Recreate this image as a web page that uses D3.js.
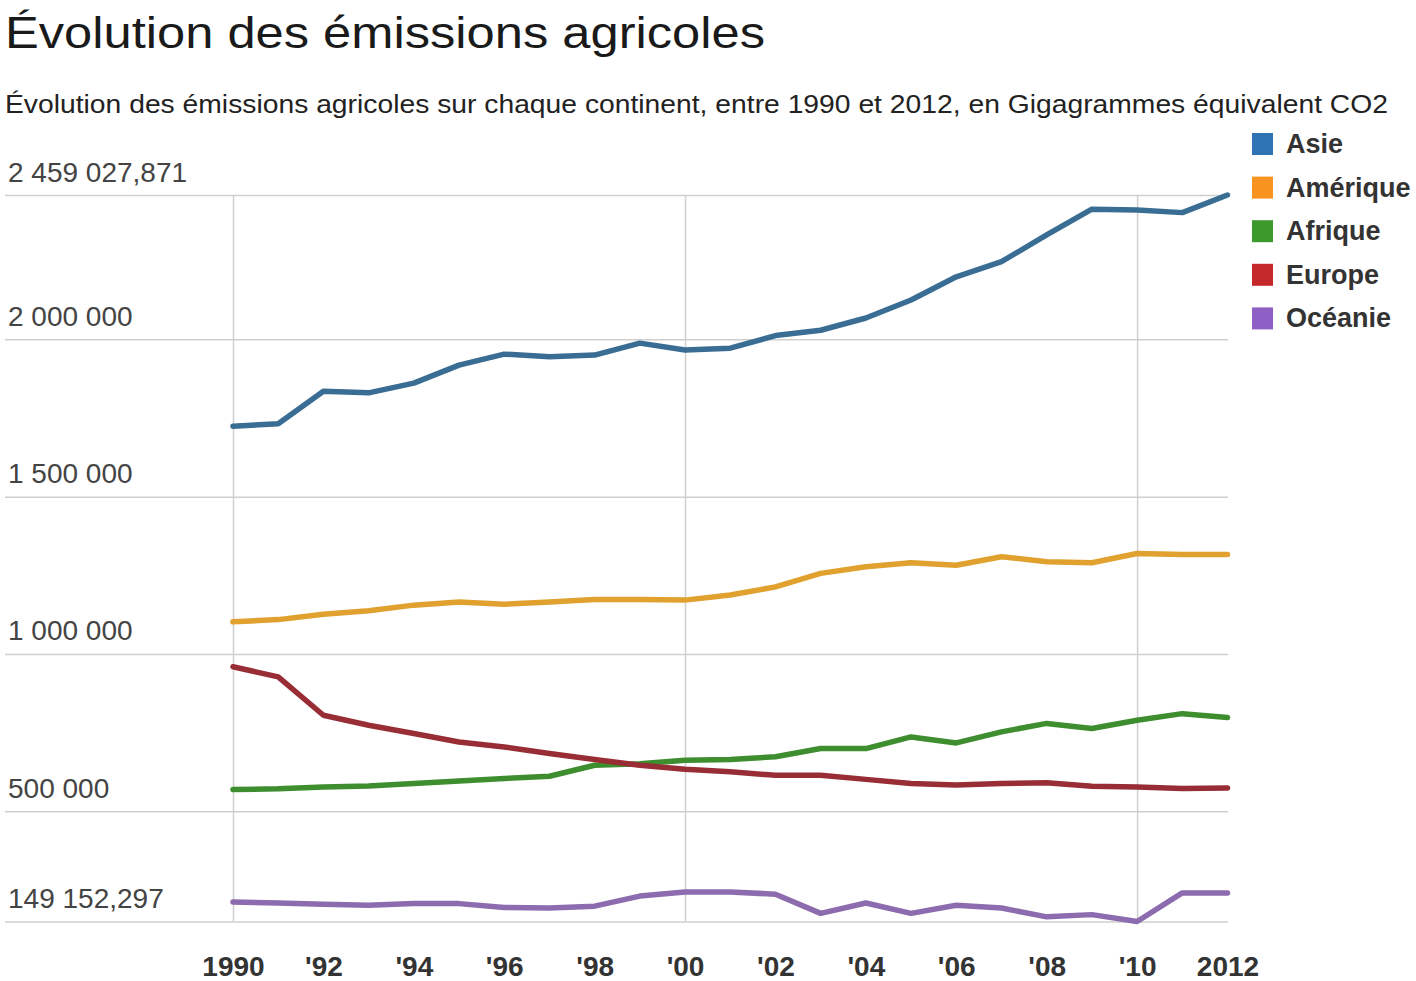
<!DOCTYPE html>
<html>
<head>
<meta charset="utf-8">
<script src="https://cdn.jsdelivr.net/npm/d3@7"></script>
<style>
  html, body { margin: 0; padding: 0; background: #fff; }
  svg { display: block; }
</style>
</head>
<body>
<svg id="chart" width="1416" height="981"></svg>
<script>
// ---- Data ----
const years = d3.range(1990, 2013);
const categories = ["Asie", "Amérique", "Afrique", "Europe", "Océanie"];

const asie = [1724000, 1732000, 1835000, 1830000, 1861000, 1918000, 1953000, 1945000, 1950000, 1988000, 1966000,
              1972000, 2012000, 2029000, 2068000, 2125000, 2199000, 2247000, 2332000, 2414000, 2411000, 2403000, 2459027.871];
const amerique = [1102000, 1109000, 1126000, 1137000, 1155000, 1165000, 1158000, 1165000, 1173000, 1173000, 1171000,
                  1187000, 1213000, 1256000, 1277000, 1290000, 1282000, 1309000, 1293000, 1290000, 1319000, 1316000, 1316000];
const afrique = [569000, 571000, 577000, 580000, 588000, 596000, 604000, 611000, 646000, 651000, 662000,
                 664000, 673000, 699000, 699000, 736000, 717000, 752000, 779000, 763000, 789000, 810000, 798000];
const europe = [959000, 927000, 805000, 773000, 747000, 720000, 704000, 683000, 664000, 646000, 633000,
                625000, 614000, 614000, 601000, 588000, 583000, 588000, 590000, 579000, 577000, 572000, 574000];
const oceanie = [211000, 208000, 204000, 201000, 206000, 206000, 194000, 192000, 198000, 230000, 243000,
                 243000, 236000, 175000, 208000, 175000, 201000, 192000, 164000, 171000, 149152.297, 240000, 240000];

const seriesValues = [asie, amerique, afrique, europe, oceanie];

const yTickValues = [149152.297, 500000, 1000000, 1500000, 2000000, 2459027.871];
const yTickLabels = ["149 152,297", "500 000", "1 000 000", "1 500 000", "2 000 000", "2 459 027,871"];
const xTickValues = [1990, 1992, 1994, 1996, 1998, 2000, 2002, 2004, 2006, 2008, 2010, 2012];
const xTickLabels = ["1990", "'92", "'94", "'96", "'98", "'00", "'02", "'04", "'06", "'08", "'10", "2012"];
const xGridYears = [1990, 2000, 2010];

const titleText = "Évolution des émissions agricoles";
const subtitleText = "Évolution des émissions agricoles sur chaque continent, entre 1990 et 2012, en Gigagrammes équivalent CO2";

// ---- Styles ----
const lineColors = ["#3a6d93", "#e0a12e", "#3e8d2f", "#982d35", "#8c6cae"];
const legendColors = ["#2e74b5", "#f7931e", "#3b9a2b", "#c4282b", "#8e5fc5"];
const font = "'Liberation Sans', Arial, Helvetica, sans-serif";

const svg = d3.select("#chart");

const x = d3.scaleLinear().domain([1990, 2012]).range([233, 1227.5]);
const y = d3.scaleLinear().domain([149152.297, 2459027.871]).range([921.5, 195]);

// Title & subtitle
svg.append("text")
  .attr("x", 5).attr("y", 48)
  .attr("font-family", font).attr("font-size", 45)
  .attr("fill", "#1a1a1a")
  .attr("textLength", 760).attr("lengthAdjust", "spacingAndGlyphs")
  .text(titleText);

svg.append("text")
  .attr("x", 5).attr("y", 113)
  .attr("font-family", font).attr("font-size", 26)
  .attr("fill", "#222")
  .attr("textLength", 1383).attr("lengthAdjust", "spacingAndGlyphs")
  .text(subtitleText);

// Horizontal gridlines via axis
const yAxis = d3.axisRight(y)
  .tickValues(yTickValues)
  .tickSize(1223)
  .tickFormat((d, i) => yTickLabels[i]);

const gy = svg.append("g").attr("transform", "translate(5,0)").call(yAxis);
gy.select(".domain").remove();
gy.selectAll(".tick line").attr("stroke", "#cfcfcf").attr("stroke-width", 1.5);
gy.selectAll(".tick text")
  .attr("x", 3).attr("dy", -14)
  .attr("text-anchor", "start")
  .attr("font-family", font).attr("font-size", 28)
  .attr("fill", "#444");

// Vertical gridlines
const yTop = y(yTickValues[5]);
const yBottom = y(yTickValues[0]);
const xGrid = d3.axisBottom(x).tickValues(xGridYears).tickSize(yBottom - yTop).tickFormat("");
const gxg = svg.append("g").attr("transform", `translate(0,${yTop})`).call(xGrid);
gxg.select(".domain").remove();
gxg.selectAll(".tick line").attr("stroke", "#cfcfcf").attr("stroke-width", 1.5);

// X axis labels
const xAxis = d3.axisBottom(x).tickValues(xTickValues).tickSize(0).tickFormat((d, i) => xTickLabels[i]);
const gx = svg.append("g").attr("transform", `translate(0,${yBottom})`).call(xAxis);
gx.select(".domain").remove();
gx.selectAll(".tick text")
  .attr("y", 0).attr("dy", 54.5)
  .attr("font-family", font).attr("font-size", 28).attr("font-weight", "bold")
  .attr("fill", "#333");

// Lines
const line = d3.line()
  .x((d, i) => x(years[i]))
  .y(d => y(d));

seriesValues.forEach((vals, k) => {
  svg.append("path")
    .datum(vals)
    .attr("fill", "none")
    .attr("stroke", lineColors[k])
    .attr("stroke-width", 5.5)
    .attr("stroke-linejoin", "round")
    .attr("stroke-linecap", "round")
    .attr("d", line);
});

// Legend
const legend = svg.append("g");
categories.forEach((c, i) => {
  const cy = 144 + i * 43.6;
  legend.append("rect")
    .attr("x", 1252).attr("y", cy - 11)
    .attr("width", 21).attr("height", 22)
    .attr("fill", legendColors[i]);
  legend.append("text")
    .attr("x", 1286).attr("y", cy + 9)
    .attr("font-family", font).attr("font-size", 27).attr("font-weight", "bold")
    .attr("fill", "#333")
    .text(c);
});
</script>
</body>
</html>
